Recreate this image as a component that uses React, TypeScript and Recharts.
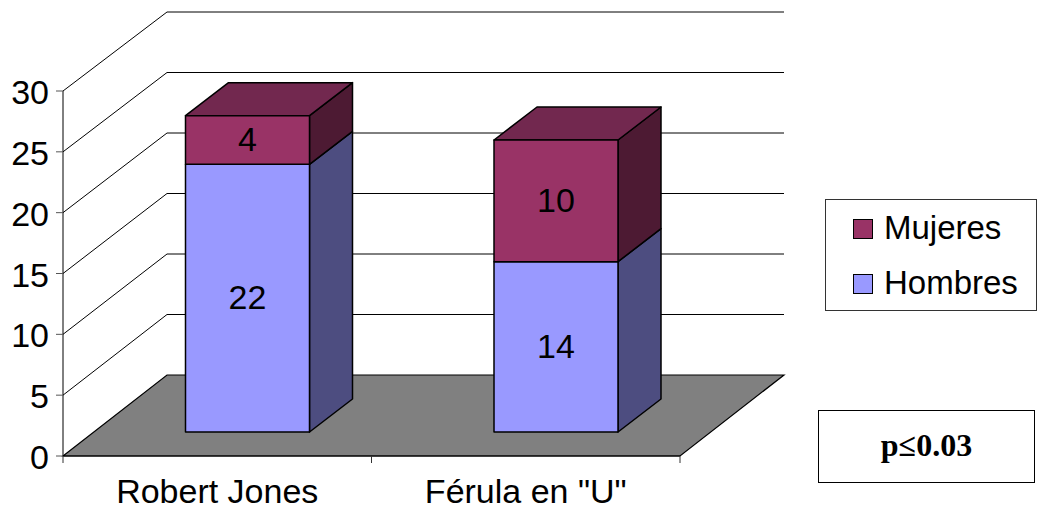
import React from 'react';
import { BarChart, Bar, XAxis, YAxis, LabelList, CartesianGrid } from 'recharts';

const categorias = ['Robert Jones', 'Férula en "U"'];
const hombres = [22, 14];
const mujeres = [4, 10];
const ticksY = [0, 5, 10, 15, 20, 25, 30];

const data = categorias.map((nombre, i) => ({
  nombre,
  Hombres: hombres[i],
  Mujeres: mujeres[i],
}));

const FONT = '"Liberation Sans", Arial, sans-serif';
const LEFT = 63;
const RIGHT = 680;
const BASE_Y = 456;
// depth of the walls and of the bars in the fake 3D view
const WALL_DX = 104;
const WALL_DY = -81;
const WALL_SCALE = 363 / 365;
const BAR_OFF_X = 30.5;
const BAR_OFF_Y = -24;
const BAR_DX = 43;
const BAR_DY = -33;

const Bar3D = ({ x, y, width, height, front, side, top }: any) => {
  const fx = x + BAR_OFF_X;
  const fy = y + BAR_OFF_Y;
  const pts = (p: number[][]) => p.map((q) => q.join(',')).join(' ');
  const stroke = { stroke: '#000', strokeWidth: 1.5, strokeLinejoin: 'round' as const };
  return (
    <g>
      <polygon
        points={pts([
          [fx + width, fy],
          [fx + width + BAR_DX, fy + BAR_DY],
          [fx + width + BAR_DX, fy + height + BAR_DY],
          [fx + width, fy + height],
        ])}
        fill={side}
        {...stroke}
      />
      {top && (
        <polygon
          points={pts([
            [fx, fy],
            [fx + BAR_DX, fy + BAR_DY],
            [fx + width + BAR_DX, fy + BAR_DY],
            [fx + width, fy],
          ])}
          fill={top}
          {...stroke}
        />
      )}
      <rect x={fx} y={fy} width={width} height={height} fill={front} {...stroke} />
    </g>
  );
};

const ValueLabel = ({ x, y, width, height, value }: any) => (
  <text
    x={x + width / 2 + BAR_OFF_X}
    y={y + height / 2 + BAR_OFF_Y - 1}
    textAnchor="middle"
    dominantBaseline="central"
    fontFamily={FONT}
    fontSize={34}
    fill="#000"
  >
    {value}
  </text>
);

// grid lines are drawn under the bars, so the walls and the floor live here
const WallLine = ({ y1 }: any) => {
  const y = y1;
  const backY = BASE_Y + WALL_DY - (BASE_Y - y) * WALL_SCALE;
  const backX = LEFT + WALL_DX;
  if (Math.abs(y - BASE_Y) < 1) {
    return (
      <polygon
        points={`${LEFT},${y} ${backX},${backY} ${RIGHT + WALL_DX},${backY} ${RIGHT},${y}`}
        fill="#808080"
        stroke="#000"
        strokeWidth={1.2}
      />
    );
  }
  return (
    <polyline
      points={`${LEFT},${y} ${backX},${backY} ${RIGHT + WALL_DX},${backY}`}
      fill="none"
      stroke="#000"
      strokeWidth={1}
    />
  );
};

const TickY = ({ y, payload }: any) => (
  <g>
    <line x1={LEFT - 7} x2={LEFT} y1={y} y2={y} stroke="#555" strokeWidth={1} />
    <text x={49} y={y + 1} textAnchor="end" dominantBaseline="central" fontFamily={FONT} fontSize={34} fill="#000">
      {payload.value}
    </text>
  </g>
);

const TickX = ({ x, payload }: any) => {
  const half = (RIGHT - LEFT) / 4;
  return (
    <g>
      <line x1={x - half} x2={x - half} y1={BASE_Y} y2={BASE_Y + 7} stroke="#333" />
      <line x1={x + half} x2={x + half} y1={BASE_Y} y2={BASE_Y + 7} stroke="#333" />
      <text x={x} y={503} textAnchor="middle" fontFamily={FONT} fontSize={34} fill="#000">
        {payload.value}
      </text>
    </g>
  );
};

const Leyenda = () => (
  <div
    style={{
      position: 'absolute',
      left: 825,
      top: 199,
      width: 212,
      height: 112,
      boxSizing: 'border-box',
      border: '1px solid #333',
      background: '#fff',
      fontFamily: FONT,
      fontSize: 33,
      color: '#000',
    }}
  >
    {[
      { nombre: 'Mujeres', color: '#993366', top: 29 },
      { nombre: 'Hombres', color: '#9999ff', top: 84 },
    ].map((it) => (
      <div key={it.nombre}>
        <div
          style={{
            position: 'absolute',
            left: 27,
            top: it.top - 10,
            width: 20,
            height: 20,
            boxSizing: 'border-box',
            background: it.color,
            border: '1px solid #000',
          }}
        />
        <div style={{ position: 'absolute', left: 58, top: it.top - 19, lineHeight: '36px' }}>{it.nombre}</div>
      </div>
    ))}
  </div>
);

export default function App() {
  return (
    <div style={{ position: 'absolute', left: 0, top: 0, width: 1037, height: 509, background: '#fff' }}>
      <BarChart
        width={1037}
        height={509}
        data={data}
        margin={{ top: 91, right: 1037 - RIGHT, bottom: 0, left: 0 }}
      >
        <CartesianGrid vertical={false} horizontal={(p: any) => <WallLine key={p.key} {...p} />} />
        <XAxis
          dataKey="nombre"
          height={53}
          axisLine={{ stroke: '#000', strokeWidth: 1.2 }}
          tickLine={false}
          tick={<TickX />}
          interval={0}
        />
        <YAxis
          width={LEFT}
          domain={[0, 30]}
          ticks={ticksY}
          interval={0}
          axisLine={{ stroke: '#000', strokeWidth: 1 }}
          tickLine={false}
          tick={<TickY />}
        />
        <Bar
          dataKey="Hombres"
          stackId="a"
          barSize={124}
          isAnimationActive={false}
          shape={(p: any) => <Bar3D {...p} front="#9999ff" side="#4d4d80" />}
        >
          <LabelList dataKey="Hombres" content={<ValueLabel />} />
        </Bar>
        <Bar
          dataKey="Mujeres"
          stackId="a"
          barSize={124}
          isAnimationActive={false}
          shape={(p: any) => <Bar3D {...p} front="#993366" side="#4d1a33" top="#72284f" />}
        >
          <LabelList dataKey="Mujeres" content={<ValueLabel />} />
        </Bar>
      </BarChart>
      <Leyenda />
      <div
        style={{
          position: 'absolute',
          left: 818,
          top: 410,
          width: 217,
          height: 73,
          boxSizing: 'border-box',
          border: '1.5px solid #000',
          background: '#fff',
          fontFamily: '"Liberation Serif", "Times New Roman", serif',
          fontWeight: 'bold',
          fontSize: 32,
          lineHeight: '68px',
          textAlign: 'center',
          color: '#000',
        }}
      >
        p≤0.03
      </div>
    </div>
  );
}
